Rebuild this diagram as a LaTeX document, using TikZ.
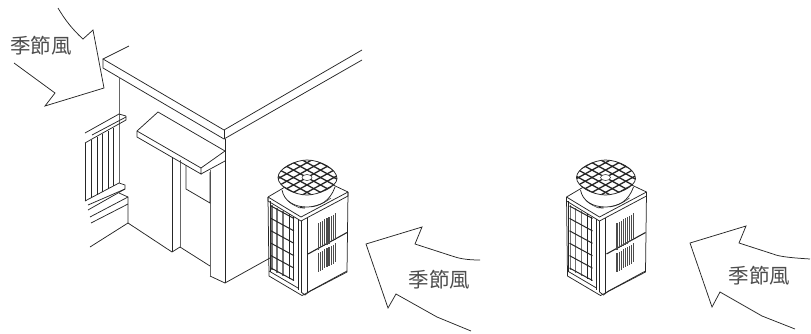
\documentclass[tikz,border=0pt]{standalone}
\usepackage{fontspec}
\newfontfamily\cjk{Noto Sans CJK TC}
\tikzset{
 ln/.style={line width=0.75pt,black!85,line join=miter},
 gl/.style={line width=1pt,black!60},
 fine/.style={line width=0.5pt,black!85},
 lbl/.style={font=\cjk\fontsize{20.5}{20.5}\selectfont,text=black!70,inner sep=0pt},
 gridl/.style={line width=1.3pt,black!85},
}
\newcommand{\grillepath}{(278,177.5) .. controls (278,168) and (296,160) .. (307,160)
    .. controls (320,160) and (337,169) .. (337,178.5) .. controls (337,187) and (318,195) .. (307,195)
    .. controls (295,195) and (278,187) .. cycle}
\newcommand{\acunit}[1]{%
\begin{scope}[xshift=#1]
 % body
 \draw[ln] (268,197)--(269,276)--(302,295.5)--(347,272)--(348,192);
 \draw[ln] (268,197)--(268,201)--(301,221)--(348,196)--(348,192);
 \draw[ln] (268,197)--(285,187);
 \draw[ln] (331,184)--(348,192);
 \draw[ln] (268,197)--(301,217)--(348,192);
 \draw[ln] (298,219)--(298,290);
 \draw[ln] (301,221)--(301,292);
 \draw[ln] (307,218)--(307,293);
 \draw[ln] (301,292)--(305,295)--(310,291)--(347,271);
 \draw[ln] (269,271)--(298,288);
 \draw[fine] (270,201)--(270,272);
 % left panel grid
 \foreach \xa/\ya in {272/205,277/208,283/211}{
  \draw[line width=1.1pt,black!55] (\xa,\ya)--(\xa,{\ya+65});}
 \draw[fine] (289,214)--(289,279);
 \draw[line width=1pt,black!85] (293,217)--(293,281);
 \foreach \k in {0,...,5}{
  \draw[line width=1pt,black!85] (271,{206+12.4*\k})--(294,{218.5+12.4*\k});}
 % right panel divider and louvres
 \draw[line width=1.1pt,black!85] (308,254)--(347,232.5);
 \foreach \k in {0,...,8}{
  \draw[line width=1.2pt,black!70] ({318.5+2.1*\k},{223-1.2*\k})--({318.5+2.1*\k},{249.5-1.2*\k});
  \draw[line width=1.2pt,black!70] ({318.5+2.1*\k},{253-1.2*\k})--({318.5+2.1*\k},{272-1.2*\k});
 }
 % collar
 \draw[ln] (282,190) .. controls (284,201) and (294,207) .. (307,207) .. controls (320,207) and (330,201) .. (335,187);
 \draw[fine] (288,201) .. controls (292,205) and (298,207) .. (300,208);
 \draw[fine] (311,206.5) .. controls (318,206) and (326,202) .. (331,198);
 \draw[line width=1pt,black!85] (300,207.5)--(305,208);
 % grille
 \fill[white] \grillepath;
 \begin{scope}
  \clip \grillepath;
  \foreach \k in {-3,...,3}{
   \draw[gridl] ({307+13.5*\k-50},{177.5-27.5})--({307+13.5*\k+50},{177.5+27.5});
   \draw[gridl] ({307+13.5*\k-50},{177.5+27.5})--({307+13.5*\k+50},{177.5-27.5});
  }
  \fill[white] (307,177.5) ellipse (5 and 3);
  \draw[fine] (307,177.5) ellipse (5 and 3);
 \end{scope}
 \draw[ln] \grillepath;
\end{scope}}
\begin{document}
\begin{tikzpicture}[x=1pt,y=-1pt]
\useasboundingbox (0,0) rectangle (811,333);
% arrows
\draw[ln] (58,8) .. controls (65,20) and (73,30) .. (83,39) -- (93,30) -- (104,88) -- (45,106) -- (55,93) -- (14,63);
\draw[ln] (480,260) .. controls (465,260) and (458,258) .. (452,256) -- (415,244) -- (422,227) -- (366,244) -- (388,308) -- (396,294) -- (437,317) -- (471,331);
\draw[ln] (810,259) .. controls (795,258) and (780,257) .. (773,254) -- (739,243) -- (746,226) -- (690,243) -- (712,307) -- (720,292) -- (762,316) -- (795,329);
\node[lbl] (wa) at (41,46) {季節風};
\node[lbl] (wb) at (439.5,280) {季節風};
\node[lbl] (wc) at (759.5,276) {季節風};
% roof
\draw[ln] (129,46)--(103,59)--(224,130)--(362,50);
\draw[ln] (103,59)--(103,68)--(224,139)--(362,60);
\draw[ln] (224,130)--(224,139);
% walls
\draw[gl] (119,77)--(119,183);
\draw[ln] (225,139)--(225,283);
\draw[ln] (225,283)--(210,276);
\draw[gl] (210,170)--(210,276);
\draw[ln] (225,283)--(270,258);
% ground
\draw[ln] (90,247)--(128,223)--(172,252)--(180,247);
\draw[ln] (180,247)--(210,266);
% door
\draw[ln] (172,157)--(172,252);
\draw[gl] (180,160)--(180,247);
% window
\draw[ln] (186,165)--(186,189)--(210,203)--(210,172);
% canopy
\draw[ln] (137,131)--(158,112)--(225,151)--(201,168)--(201,174)--(137,137)--cycle;
\draw[ln] (137,131)--(201,168);
\draw[ln] (201,174)--(225,161);
% railing
\draw[ln] (85,133)--(119,114)--(126,116);
\draw[ln] (92,135)--(126,117);
\draw[ln] (85,143)--(92,139)--(126,120)--(126,116);
\foreach \xx/\yy in {85/143,91/140,97/137,102/134,108/131,113/128}{
 \draw[ln] (\xx,\yy)--(\xx,{\yy+58});}
\draw[ln] (85,201)--(119,183)--(125,185)--(125,189)--(88,205);
\draw[ln] (88,210)--(125,189);
\draw[ln] (119,193)--(128,197)--(128,223);
\draw[ln] (90,217)--(128,197);
\draw[ln] (91,223)--(128,204);
% units
\acunit{0pt}
\acunit{298.5pt}
\end{tikzpicture}
\end{document}
